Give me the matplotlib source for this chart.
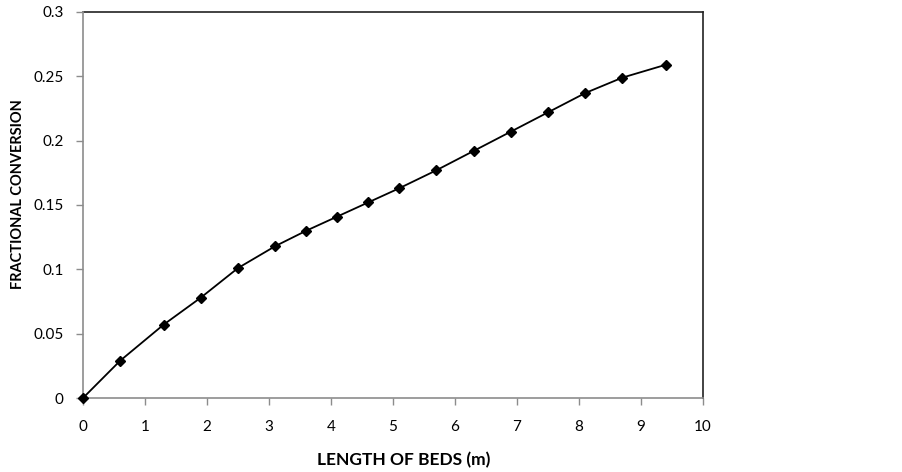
import matplotlib
matplotlib.use("Agg")
import matplotlib.pyplot as plt

length_m = [0, 0.6, 1.3, 1.9, 2.5, 3.1, 3.6, 4.1, 4.6, 5.1, 5.7, 6.3, 6.9, 7.5, 8.1, 8.7, 9.4]
conversion = [0, 0.029, 0.057, 0.078, 0.101, 0.118, 0.130, 0.141, 0.152, 0.163,
              0.177, 0.192, 0.207, 0.222, 0.237, 0.249, 0.259]
x_ticks = [0, 1, 2, 3, 4, 5, 6, 7, 8, 9, 10]
y_ticks = [0, 0.05, 0.1, 0.15, 0.2, 0.25, 0.3]
y_tick_labels = ["0", "0.05", "0.1", "0.15", "0.2", "0.25", "0.3"]

plt.rcParams['font.family'] = ['Lato', 'DejaVu Sans']

fig = plt.figure(figsize=(9.03, 4.72), dpi=100)
ax = fig.add_axes([83/903, 1-398/472, 620/903, 386/472])

ax.plot(length_m, conversion, color='black', lw=1.3, marker='D', markersize=5.5,
        markerfacecolor='black', markeredgecolor='black', clip_on=False, zorder=3)

ax.set_xlim(0, 10)
ax.set_ylim(0, 0.3)
ax.set_xticks(x_ticks)
ax.set_xticklabels([str(t) for t in x_ticks])
ax.set_yticks(y_ticks)
ax.set_yticklabels(y_tick_labels)

for side in ['left', 'bottom']:
    ax.spines[side].set_color('#8c8c8c')
    ax.spines[side].set_linewidth(1.2)
for side in ['top', 'right']:
    ax.spines[side].set_color('#222222')
    ax.spines[side].set_linewidth(1.2)
ax.spines['top'].set_zorder(0)

ax.tick_params(axis='both', direction='out', length=5, width=1, color='#8c8c8c',
               labelsize=11, labelcolor='black')
ax.tick_params(axis='x', pad=11)
ax.tick_params(axis='y', pad=9)

ax.set_xlabel('LENGTH OF BEDS (m)', fontsize=12.5, fontweight='bold', va='center')
ax.set_ylabel('FRACTIONAL CONVERSION', fontsize=10.5, fontweight='bold', va='center')
ax.xaxis.set_label_coords((404-83)/620, (398-460)/386)
ax.yaxis.set_label_coords((18-83)/620, (398-194)/386)

fig.savefig('out.png', dpi=100)
